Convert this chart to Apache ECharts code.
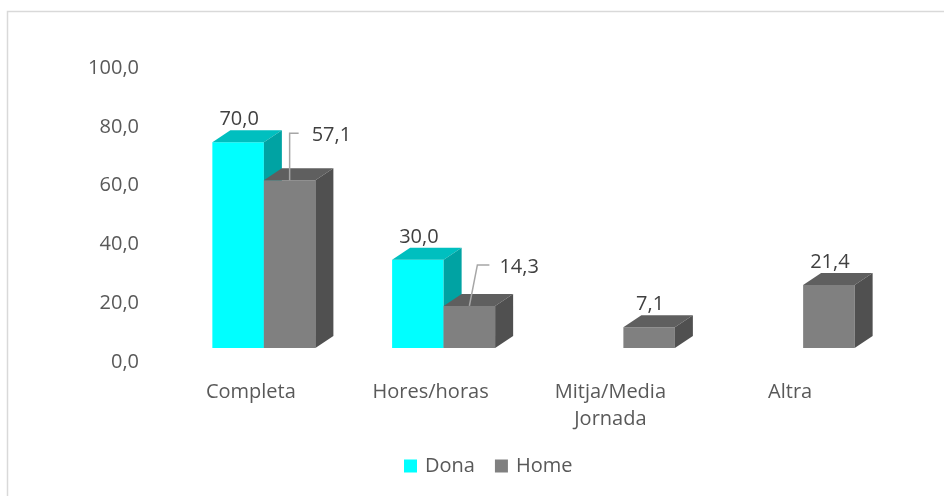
<!DOCTYPE html>
<html>
<head>
<meta charset="utf-8">
<script src="https://cdn.jsdelivr.net/npm/echarts@6/dist/echarts.min.js"></script>
<style>
html,body{margin:0;padding:0;background:#fff;}
#chart{width:944px;height:496px;}
</style>
</head>
<body>
<div id="chart"></div>
<script>
var categories = ['Completa', 'Hores/horas', 'Mitja/Media\nJornada', 'Altra'];
var dona = [70.0, 30.0, null, null];
var home = [57.1, 14.3, 7.1, 21.4];
var yTicks = { min: 0, max: 100, interval: 20 };

var FONT = '"Open Sans", sans-serif';
var BAR_FRAC = 0.2866;   // bar width as fraction of band
var PAIR_SHIFT = 13;     // pair center shift from category center
var LIFT = 14;           // front face baseline above axis baseline
var DEPTH = [18, -12];   // 3D depth offset
// leader label styles (offsets relative to bar front-top-center)
var homeLeaders = {
  0: { elbow: [0, -47], end: [9, -47], text: [22, -45] },
  1: { elbow: [8, -41], end: [20, -41], text: [30, -39] }
};

function fmt(v) { return v.toFixed(1).replace('.', ','); }

function makeRender(which, colors, leaders) {
  return function (params, api) {
    var v = api.value(1);
    if (v == null || isNaN(v)) return;
    var idx = api.value(0);
    var base = api.coord([idx, 0]);
    var topP = api.coord([idx, v]);
    var band = api.size([1, 0])[0];
    var w = band * BAR_FRAC;
    var c = base[0] + PAIR_SHIFT;
    var x0 = which === 0 ? c - w : c;
    var x1 = x0 + w;
    var yb = base[1] - LIFT;
    var yt = topP[1] - LIFT;
    var dx = DEPTH[0], dy = DEPTH[1];
    var children = [
      { type: 'rect', shape: { x: x0, y: yt, width: w, height: yb - yt },
        style: { fill: colors[0] } },
      { type: 'polygon', shape: { points: [[x0, yt], [x1, yt], [x1 + dx, yt + dy], [x0 + dx, yt + dy]] },
        style: { fill: colors[1] } },
      { type: 'polygon', shape: { points: [[x1, yt], [x1 + dx, yt + dy], [x1 + dx, yb + dy], [x1, yb]] },
        style: { fill: colors[2] } }
    ];
    var fc = (x0 + x1) / 2;
    var L = leaders && leaders[params.dataIndex];
    if (L) {
      children.push({ type: 'polyline',
        shape: { points: [[fc, yt], [fc + L.elbow[0], yt + L.elbow[1]], [fc + L.end[0], yt + L.end[1]]] },
        style: { stroke: '#a6a6a6', lineWidth: 1.5, fill: null } });
      children.push({ type: 'text',
        style: { text: fmt(v), x: fc + L.text[0], y: yt + L.text[1], align: 'left', verticalAlign: 'middle',
          fontSize: 20, fontFamily: FONT, fill: '#404040' } });
    } else {
      children.push({ type: 'text',
        style: { text: fmt(v), x: fc + 1, y: yt + dy - 11, align: 'center', verticalAlign: 'middle',
          fontSize: 20, fontFamily: FONT, fill: '#404040' } });
    }
    return { type: 'group', children: children };
  };
}

function toData(arr) { return arr.map(function (v, i) { return [i, v]; }); }

var chart = echarts.init(document.getElementById('chart'), null, { renderer: 'canvas' });
chart.setOption({
  animation: false,
  backgroundColor: '#ffffff',
  graphic: [{
    type: 'rect', shape: { x: 7.5, y: 11.5, width: 960, height: 520 },
    style: { fill: null, stroke: '#d9d9d9', lineWidth: 1.5 }, silent: true, z: -10
  }],
  grid: { left: 161, right: 64, top: 68, bottom: 134 },
  legend: {
    left: 404, top: 456, padding: 0, itemWidth: 13, itemHeight: 13, itemGap: 20, icon: 'rect',
    textStyle: { fontSize: 20, fontFamily: FONT, color: '#595959', padding: [0, 0, 0, 3] },
    data: [{ name: 'Dona', itemStyle: { color: '#00FFFF' } }, { name: 'Home', itemStyle: { color: '#808080' } }]
  },
  xAxis: {
    type: 'category', data: categories, boundaryGap: true,
    axisLine: { show: false }, axisTick: { show: false },
    axisLabel: { fontSize: 20, fontFamily: FONT, color: '#595959', margin: 17, lineHeight: 27, interval: 0 }
  },
  yAxis: {
    type: 'value', min: yTicks.min, max: yTicks.max, interval: yTicks.interval,
    axisLine: { show: false }, axisTick: { show: false }, splitLine: { show: false },
    axisLabel: { fontSize: 20, fontFamily: FONT, color: '#595959', margin: 22, formatter: function (v) { return fmt(v); } }
  },
  series: [
    { name: 'Dona', type: 'custom', itemStyle: { color: '#00FFFF' },
      renderItem: makeRender(0, ['#00FFFF', '#00BFBF', '#00A3A3'], null),
      encode: { x: 0, y: 1 }, data: toData(dona) },
    { name: 'Home', type: 'custom', itemStyle: { color: '#808080' },
      renderItem: makeRender(1, ['#808080', '#5f5f5f', '#505050'], homeLeaders),
      encode: { x: 0, y: 1 }, data: toData(home) }
  ]
});
</script>
</body>
</html>
